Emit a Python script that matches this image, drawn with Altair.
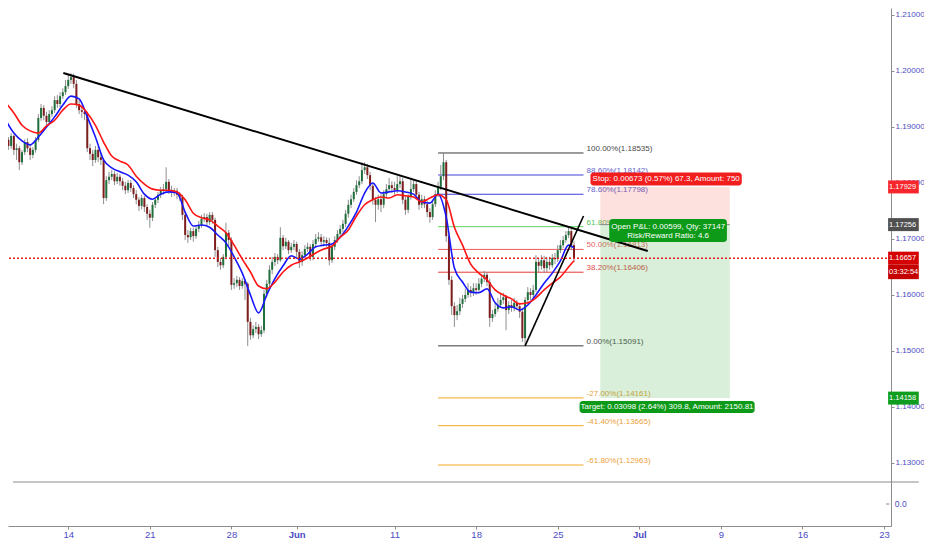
import altair as alt
import pandas as pd

# ---------------- data (EURUSD, 4-hour candles) ----------------
FIRST_OPEN = 1.1884
CLOSES = [
    1.1877, 1.1866, 1.1884, 1.1859, 1.1862,
    1.1837, 1.1855, 1.1873, 1.1862, 1.1850, 1.1859,
    1.1877, 1.1916, 1.1934, 1.1920, 1.1909, 1.1923,
    1.1930, 1.1948, 1.1941, 1.1955, 1.1962, 1.1973,
    1.1984, 1.1989, 1.1977, 1.1941, 1.1930, 1.1927,
    1.1923, 1.1862, 1.1852, 1.1841, 1.1859, 1.1846,
    1.1841, 1.1773, 1.1805, 1.1811, 1.1816, 1.1803,
    1.1811, 1.1803, 1.1795, 1.1787, 1.1800, 1.1791,
    1.1780, 1.1770, 1.1759, 1.1773, 1.1757, 1.1745,
    1.1738, 1.1761, 1.1770, 1.1779, 1.1786, 1.1789,
    1.1802, 1.1787, 1.1782, 1.1786, 1.1779, 1.1775,
    1.1743, 1.1707, 1.1703, 1.1714, 1.1705, 1.1718,
    1.1725, 1.1736, 1.1739, 1.1730, 1.1743, 1.1734,
    1.1680, 1.1659, 1.1653, 1.1668, 1.1711, 1.1698,
    1.1618, 1.1621, 1.1627, 1.1616, 1.1625, 1.1620,
    1.1552, 1.1528, 1.1539, 1.1543, 1.1530, 1.1537,
    1.1602, 1.1620, 1.1645, 1.1659, 1.1668, 1.1662,
    1.1702, 1.1687, 1.1695, 1.1680, 1.1686, 1.1691,
    1.1677, 1.1659, 1.1671, 1.1682, 1.1686, 1.1668,
    1.1691, 1.1700, 1.1703, 1.1695, 1.1698, 1.1693,
    1.1662, 1.1686, 1.1698, 1.1709, 1.1718, 1.1727,
    1.1745, 1.1761, 1.1771, 1.1784, 1.1796, 1.1803,
    1.1823, 1.1828, 1.1814, 1.1795, 1.1770, 1.1761,
    1.1771, 1.1761, 1.1780, 1.1789, 1.1796, 1.1791,
    1.1787, 1.1798, 1.1803, 1.1770, 1.1752, 1.1775,
    1.1789, 1.1798, 1.1779, 1.1761, 1.1771, 1.1762,
    1.1748, 1.1739, 1.1762, 1.1780, 1.1793, 1.1812,
    1.1837, 1.1705, 1.1627, 1.1580, 1.1564, 1.1571,
    1.1584, 1.1593, 1.1600, 1.1609, 1.1604, 1.1612,
    1.1609, 1.1620, 1.1629, 1.1636, 1.1623, 1.1559,
    1.1566, 1.1575, 1.1582, 1.1591, 1.1596, 1.1573,
    1.1582, 1.1577, 1.1586, 1.1580, 1.1570, 1.1523,
    1.1591, 1.1605, 1.1600, 1.1609, 1.1659, 1.1652,
    1.1662, 1.1648, 1.1659, 1.1653, 1.1666, 1.1664,
    1.1680, 1.1689, 1.1698, 1.1707, 1.1714, 1.1689,
    1.1666,
]
HIGHS = [
    1.1891, 1.1882, 1.1889, 1.1887, 1.1870,
    1.1866, 1.1859, 1.1878, 1.1880, 1.1868, 1.1864,
    1.1882, 1.1923, 1.1941, 1.1939, 1.1927, 1.1930,
    1.1937, 1.1955, 1.1957, 1.1962, 1.1969, 1.1984,
    1.1995, 1.1996, 1.1995, 1.1984, 1.1948, 1.1937,
    1.1934, 1.1927, 1.1870, 1.1859, 1.1866, 1.1864,
    1.1852, 1.1844, 1.1812, 1.1820, 1.1823, 1.1821,
    1.1818, 1.1816, 1.1809, 1.1802, 1.1805, 1.1805,
    1.1796, 1.1787, 1.1775, 1.1779, 1.1777, 1.1762,
    1.1752, 1.1766, 1.1775, 1.1784, 1.1793, 1.1798,
    1.1828, 1.1807, 1.1795, 1.1791, 1.1791, 1.1784,
    1.1779, 1.1748, 1.1716, 1.1720, 1.1720, 1.1723,
    1.1732, 1.1743, 1.1746, 1.1745, 1.1748, 1.1748,
    1.1738, 1.1686, 1.1666, 1.1673, 1.1729, 1.1716,
    1.1703, 1.1630, 1.1634, 1.1632, 1.1630, 1.1629,
    1.1623, 1.1559, 1.1546, 1.1552, 1.1548, 1.1545,
    1.1609, 1.1627, 1.1653, 1.1668, 1.1675, 1.1673,
    1.1721, 1.1707, 1.1702, 1.1698, 1.1693, 1.1698,
    1.1695, 1.1682, 1.1678, 1.1689, 1.1693, 1.1691,
    1.1698, 1.1709, 1.1712, 1.1709, 1.1705, 1.1703,
    1.1702, 1.1691, 1.1705, 1.1716, 1.1725, 1.1734,
    1.1752, 1.1770, 1.1779, 1.1791, 1.1805, 1.1812,
    1.1837, 1.1837, 1.1834, 1.1820, 1.1798, 1.1775,
    1.1779, 1.1780, 1.1787, 1.1798, 1.1809, 1.1803,
    1.1802, 1.1812, 1.1812, 1.1809, 1.1777, 1.1780,
    1.1807, 1.1805, 1.1803, 1.1784, 1.1779, 1.1777,
    1.1768, 1.1755, 1.1770, 1.1787, 1.1802, 1.1832,
    1.1854, 1.1841, 1.1709, 1.1634, 1.1587, 1.1582,
    1.1595, 1.1600, 1.1611, 1.1621, 1.1616, 1.1621,
    1.1621, 1.1630, 1.1637, 1.1643, 1.1641, 1.1629,
    1.1573, 1.1586, 1.1595, 1.1602, 1.1604, 1.1600,
    1.1589, 1.1591, 1.1595, 1.1591, 1.1586, 1.1577,
    1.1596, 1.1614, 1.1612, 1.1618, 1.1671, 1.1666,
    1.1671, 1.1670, 1.1668, 1.1668, 1.1673, 1.1675,
    1.1689, 1.1698, 1.1705, 1.1714, 1.1720, 1.1718,
    1.1696,
]
LOWS = [
    1.1868, 1.1859, 1.1861, 1.1850, 1.1841,
    1.1823, 1.1832, 1.1850, 1.1855, 1.1841, 1.1844,
    1.1854, 1.1873, 1.1911, 1.1912, 1.1900, 1.1903,
    1.1918, 1.1925, 1.1934, 1.1935, 1.1950, 1.1957,
    1.1968, 1.1977, 1.1969, 1.1934, 1.1923, 1.1916,
    1.1912, 1.1855, 1.1841, 1.1830, 1.1836, 1.1837,
    1.1832, 1.1762, 1.1768, 1.1798, 1.1805, 1.1796,
    1.1798, 1.1795, 1.1787, 1.1780, 1.1782, 1.1784,
    1.1773, 1.1762, 1.1750, 1.1753, 1.1748, 1.1734,
    1.1720, 1.1732, 1.1755, 1.1764, 1.1773, 1.1779,
    1.1784, 1.1780, 1.1775, 1.1777, 1.1771, 1.1768,
    1.1734, 1.1698, 1.1693, 1.1698, 1.1695, 1.1700,
    1.1712, 1.1720, 1.1730, 1.1723, 1.1725, 1.1727,
    1.1668, 1.1650, 1.1645, 1.1648, 1.1664, 1.1687,
    1.1609, 1.1611, 1.1614, 1.1609, 1.1611, 1.1591,
    1.1509, 1.1520, 1.1523, 1.1532, 1.1521, 1.1525,
    1.1532, 1.1595, 1.1614, 1.1637, 1.1652, 1.1655,
    1.1659, 1.1680, 1.1682, 1.1673, 1.1675, 1.1680,
    1.1668, 1.1648, 1.1652, 1.1666, 1.1677, 1.1661,
    1.1662, 1.1686, 1.1695, 1.1687, 1.1689, 1.1686,
    1.1653, 1.1657, 1.1680, 1.1693, 1.1703, 1.1712,
    1.1721, 1.1738, 1.1755, 1.1766, 1.1779, 1.1791,
    1.1798, 1.1816, 1.1807, 1.1787, 1.1761, 1.1730,
    1.1752, 1.1748, 1.1755, 1.1775, 1.1784, 1.1782,
    1.1779, 1.1782, 1.1791, 1.1762, 1.1743, 1.1746,
    1.1770, 1.1784, 1.1771, 1.1752, 1.1755, 1.1755,
    1.1739, 1.1729, 1.1734, 1.1757, 1.1775, 1.1787,
    1.1805, 1.1695, 1.1618, 1.1564, 1.1543, 1.1555,
    1.1564, 1.1577, 1.1587, 1.1595, 1.1596, 1.1598,
    1.1600, 1.1604, 1.1614, 1.1623, 1.1616, 1.1543,
    1.1552, 1.1561, 1.1570, 1.1577, 1.1584, 1.1537,
    1.1566, 1.1570, 1.1571, 1.1573, 1.1559, 1.1516,
    1.1509, 1.1584, 1.1591, 1.1593, 1.1605, 1.1641,
    1.1645, 1.1639, 1.1641, 1.1645, 1.1648, 1.1655,
    1.1659, 1.1675, 1.1684, 1.1693, 1.1702, 1.1680,
    1.1659,
]
# moving averages, read every third candle (last one = latest candle)
EMA_FAST = [
    1.1912, 1.1889, 1.1875, 1.1868, 1.1882, 1.1900, 1.1918, 1.1939, 1.1955, 1.1950,
    1.1918, 1.1882, 1.1841, 1.1827, 1.1820, 1.1814, 1.1802, 1.1780, 1.1771, 1.1780,
    1.1784, 1.1782, 1.1748, 1.1723, 1.1725, 1.1721, 1.1707, 1.1693, 1.1668, 1.1639,
    1.1600, 1.1568, 1.1600, 1.1629, 1.1652, 1.1670, 1.1664, 1.1673, 1.1686, 1.1689,
    1.1691, 1.1703, 1.1723, 1.1748, 1.1782, 1.1800, 1.1782, 1.1784, 1.1786, 1.1784,
    1.1780, 1.1766, 1.1764, 1.1780, 1.1739, 1.1648, 1.1623, 1.1605, 1.1604, 1.1611,
    1.1586, 1.1577, 1.1579, 1.1573, 1.1582, 1.1600, 1.1621, 1.1639, 1.1661, 1.1689,
    1.1684,
]
EMA_SLOW = [
    1.1943, 1.1925, 1.1903, 1.1893, 1.1889, 1.1902, 1.1912, 1.1930, 1.1941, 1.1939,
    1.1925, 1.1903, 1.1873, 1.1848, 1.1839, 1.1832, 1.1812, 1.1798, 1.1789, 1.1787,
    1.1787, 1.1784, 1.1770, 1.1746, 1.1738, 1.1734, 1.1723, 1.1711, 1.1689, 1.1664,
    1.1641, 1.1616, 1.1611, 1.1623, 1.1641, 1.1653, 1.1659, 1.1666, 1.1675, 1.1682,
    1.1687, 1.1703, 1.1716, 1.1741, 1.1761, 1.1770, 1.1775, 1.1773, 1.1779, 1.1777,
    1.1775, 1.1766, 1.1773, 1.1779, 1.1770, 1.1721, 1.1689, 1.1655, 1.1639, 1.1627,
    1.1609, 1.1600, 1.1593, 1.1584, 1.1586, 1.1595, 1.1609, 1.1621, 1.1632, 1.1650,
    1.1661,
]

# x axis: trading-day index, 0 = Mon 14 May 2018
TICK_POS = [0, 5, 10, 14, 20, 25, 30, 35, 40, 45, 50]
TICK_LABELS = ["14", "21", "28", "Jun", "11", "18", "25", "Jul", "9", "16", "23"]
Y_TICKS = [1.13, 1.14, 1.15, 1.16, 1.17, 1.18, 1.19, 1.20, 1.21]

FIB_NAMES = ["100.00%", "88.60%", "78.60%", "61.80%", "50.00%", "38.20%", "0.00%",
             "-27.00%", "-41.40%", "-61.80%"]
FIB_PRICES = [1.18535, 1.18142, 1.17798, 1.17219, 1.16813, 1.16406, 1.15091,
              1.14161, 1.13665, 1.12963]
FIB_LINE_COLORS = ["#3a3a3a", "#3f3fd8", "#3f3fd8", "#5cd65c", "#f05a5a", "#e53935",
                   "#3a3a3a", "#f5a623", "#f5a623", "#f5a623"]
FIB_TEXT_COLORS = ["#4a4a4a", "#6464cc", "#6464cc", "#55c455", "#e86464", "#dd4b4b",
                   "#4a4a4a", "#e9a23b", "#e9a23b", "#e9a23b"]
FIB_T = [22.67, 31.58]
FIB_LABEL_T = 31.77

TREND_DOWN = [(-0.30, 1.19963), (35.52, 1.16785)]
TREND_UP = [(28.0, 1.15091), (31.58, 1.17410)]

LAST_PRICE = 1.16657
ENTRY, STOP, TARGET = 1.17256, 1.17929, 1.14158
POS_T = [32.61, 40.55]
STOP_TEXT = "Stop: 0.00673 (0.57%) 67.3, Amount: 750"
PNL_TEXT = ["Open P&L: 0.00599, Qty: 37147", "Risk/Reward Ratio: 4.6"]
TARGET_TEXT = "Target: 0.03098 (2.64%) 309.8, Amount: 2150.81"
COUNTDOWN = "03:32:54"

TAG_PRICES = [STOP, ENTRY, LAST_PRICE, TARGET]
TAG_COLORS = ["#f7262c", "#505050", "#d50000", "#0f9d1f"]

# ---------------- build tables ----------------
n = len(CLOSES)
t = [-4 + (i + 1) / 6 for i in range(n)]
opens = [FIRST_OPEN] + CLOSES[:-1]
candles = pd.DataFrame({"t": t, "open": opens, "close": CLOSES, "high": HIGHS, "low": LOWS})

ema_idx = list(range(0, n - 2, 3)) + [n - 1]
ema = pd.DataFrame({"t": [t[i] for i in ema_idx], "fast": EMA_FAST, "slow": EMA_SLOW})

fib = pd.DataFrame({
    "t1": FIB_T[0], "t2": FIB_T[1], "p": FIB_PRICES,
    "lc": FIB_LINE_COLORS, "tc": FIB_TEXT_COLORS,
    "label": [f"{nm}({pr:.5f})" for nm, pr in zip(FIB_NAMES, FIB_PRICES)],
    "tl": FIB_LABEL_T,
})

trend = pd.DataFrame({
    "t1": [TREND_DOWN[0][0], TREND_UP[0][0]], "p1": [TREND_DOWN[0][1], TREND_UP[0][1]],
    "t2": [TREND_DOWN[1][0], TREND_UP[1][0]], "p2": [TREND_DOWN[1][1], TREND_UP[1][1]],
    "w": [2.0, 1.6],
})

zones = pd.DataFrame({
    "t1": POS_T[0], "t2": POS_T[1],
    "p1": [ENTRY, ENTRY], "p2": [STOP, TARGET],
    "c": ["#f44336", "#43b047"], "o": [0.16, 0.2],
})

PX = 1 / 5600.0  # price per screen pixel
boxes = pd.DataFrame({
    "t1": [32.01, 33.16, 31.34],
    "t2": [41.28, 40.37, 42.07],
    "p1": [STOP + 14.5 * PX, ENTRY + 5.5 * PX, TARGET - 3 * PX],
    "p2": [STOP + 1.5 * PX, ENTRY - 17.5 * PX, TARGET - 15 * PX],
    "c": ["#f21d1d", "#0c9a18", "#0c9a18"],
})
box_text = pd.DataFrame({
    "t": [36.65, 36.77, 36.77, 36.70],
    "p": [STOP + 8 * PX, ENTRY - 2 * PX, ENTRY - 11 * PX, TARGET - 9 * PX],
    "text": [STOP_TEXT, PNL_TEXT[0], PNL_TEXT[1], TARGET_TEXT],
})

TAG_T = [50.25, 52.13]
tags = pd.DataFrame({
    "t1": TAG_T[0], "t2": TAG_T[1],
    "p1": [p + 6.5 * PX for p in TAG_PRICES] + [LAST_PRICE - 6.5 * PX],
    "p2": [p - 6.5 * PX for p in TAG_PRICES] + [LAST_PRICE - 21 * PX],
    "c": TAG_COLORS + ["#c40000"],
    "text": [f"{p:.5f}" for p in TAG_PRICES] + [COUNTDOWN],
    "tp": TAG_PRICES + [LAST_PRICE - 14 * PX],
    "tt": 50.31,
})

SEP_P = 1.126598
ZERO_P = 1.122669
lower = pd.DataFrame({"t1": [-3.3857], "t2": [52.13], "p": [SEP_P]})
zero = pd.DataFrame({"t": [50.66], "p": [ZERO_P], "text": ["0.0"], "tk1": [50.121], "tk2": [50.33]})

# ---------------- scales / axes ----------------
FONT = "Liberation Sans, Arial, sans-serif"
AX_COL = "#4b4bc3"
X0, X1 = -3.3857, 50.121
Y0, Y1 = 1.118741, 1.211241
xs = alt.Scale(domain=[X0, X1], nice=False, zero=False)
ys = alt.Scale(domain=[Y0, Y1], nice=False, zero=False)

lbl_map = "{" + ",".join(f"'{p}':'{l}'" for p, l in zip(TICK_POS, TICK_LABELS)) + "}"
bold_test = " || ".join(f"datum.value == {p}" for p, l in zip(TICK_POS, TICK_LABELS) if not l.isdigit())
xaxis = alt.Axis(values=TICK_POS, labelExpr=f"{lbl_map}[datum.value]", title=None, grid=False,
                 tickSize=3, tickColor="#8c8c8c", domainColor="#8c8c8c", labelColor=AX_COL,
                 labelFontSize=9.5, labelPadding=0, labelFlush=False, labelOverlap=False,
                 labelFont=FONT,
                 labelFontWeight={"condition": {"test": bold_test, "value": "bold"}, "value": "normal"})
yaxis = alt.Axis(orient="right", values=Y_TICKS, format=".5f", title=None, grid=False,
                 tickSize=3, tickColor="#8c8c8c", domainColor="#8c8c8c", labelColor=AX_COL,
                 labelFontSize=8.1, labelPadding=1, labelOverlap=False, labelFont=FONT)


def X(f):
    return alt.X(f, type="quantitative", scale=xs, axis=xaxis)


def Y(f):
    return alt.Y(f, type="quantitative", scale=ys, axis=yaxis)


base = alt.Chart(candles)

wicks = base.mark_rule(color="#8f8f8f", strokeWidth=1).encode(x=X("t"), y=Y("low"), y2="high")
bodies = base.mark_bar(size=2).encode(
    x=X("t"), y=Y("open"), y2="close",
    color=alt.condition("datum.close >= datum.open", alt.value("#1f6f3c"), alt.value("#7d1d1d")),
)

fast = alt.Chart(ema).mark_line(color="#1616ff", strokeWidth=1.6, interpolate="monotone").encode(
    x=X("t"), y=Y("fast"))
slow = alt.Chart(ema).mark_line(color="#ff1414", strokeWidth=1.6, interpolate="monotone").encode(
    x=X("t"), y=Y("slow"))

fib_lines = alt.Chart(fib).mark_rule(strokeWidth=1).encode(
    x=X("t1"), x2="t2", y=Y("p"), color=alt.Color("lc:N", scale=None))
fib_labels = alt.Chart(fib).mark_text(align="left", baseline="middle", dy=-4, fontSize=8,
                                      font=FONT).encode(
    x=X("tl"), y=Y("p"), text="label:N", color=alt.Color("tc:N", scale=None))

zone_rects = alt.Chart(zones).mark_rect().encode(
    x=X("t1"), x2="t2", y=Y("p1"), y2="p2",
    color=alt.Color("c:N", scale=None), opacity=alt.Opacity("o:Q", scale=None))
entry_line = alt.Chart(zones.head(1)).mark_rule(color="#8a8a8a", strokeWidth=1).encode(
    x=X("t1"), x2="t2", y=Y("p1"))

trend_lines = alt.Chart(trend).mark_rule(color="#000000").encode(
    x=X("t1"), y=Y("p1"), x2="t2", y2="p2", strokeWidth=alt.StrokeWidth("w:Q", scale=None))

last_line = alt.Chart(pd.DataFrame({"p": [LAST_PRICE]})).mark_rule(
    color="#e01e1e", strokeWidth=1.5, strokeDash=[2, 2]).encode(y=Y("p"))

box_rects = alt.Chart(boxes).mark_rect(cornerRadius=3).encode(
    x=X("t1"), x2="t2", y=Y("p1"), y2="p2", color=alt.Color("c:N", scale=None))
box_texts = alt.Chart(box_text).mark_text(color="white", fontSize=8, font=FONT,
                                          baseline="middle").encode(
    x=X("t"), y=Y("p"), text="text:N")

tag_rects = alt.Chart(tags).mark_rect().encode(
    x=X("t1"), x2="t2", y=Y("p1"), y2="p2", color=alt.Color("c:N", scale=None))
tag_texts = alt.Chart(tags).mark_text(color="white", fontSize=7.5, font=FONT, align="left",
                                      baseline="middle").encode(
    x=X("tt"), y=Y("tp"), text="text:N")

sep = alt.Chart(lower).mark_rule(color="#8c8c8c", strokeWidth=1).encode(
    x=X("t1"), x2="t2", y=Y("p"))
zero_tick = alt.Chart(zero).mark_rule(color="#8c8c8c").encode(x=X("tk1"), x2="tk2", y=Y("p"))
zero_text = alt.Chart(zero).mark_text(color=AX_COL, fontSize=8.5, font=FONT, align="left",
                                      baseline="middle").encode(x=X("t"), y=Y("p"), text="text:N")

chart = alt.layer(
    fib_lines, fib_labels, zone_rects, entry_line,
    wicks, bodies, fast, slow, trend_lines, last_line,
    box_rects, box_texts, tag_rects, tag_texts, sep, zero_tick, zero_text,
).properties(
    width=883, height=518,
    padding={"left": 0, "top": 0, "right": 33, "bottom": 12},
    autosize=alt.AutoSizeParams(type="none"),
    background="white",
).configure_view(strokeWidth=0)

chart.save("out.html", embed_options={"renderer": "svg", "actions": False})
